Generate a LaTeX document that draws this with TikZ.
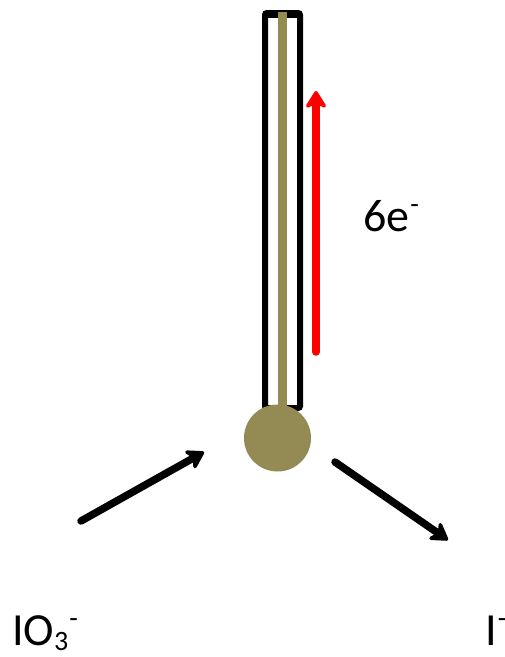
\documentclass[tikz,border=0pt]{standalone}
\usepackage{fontspec}
\setmainfont{Carlito}
\usetikzlibrary{arrows.meta}
\definecolor{olivebulb}{HTML}{948A54}
\definecolor{redarrow}{HTML}{FF0000}
\newcommand{\upmark}[1]{\hspace{1pt}\raisebox{18pt}{\fontsize{28}{30}\selectfont #1}}
\newcommand{\downmark}[1]{\raisebox{-5pt}{\fontsize{28}{30}\selectfont #1}}
\tikzset{
  tube/.style={draw=black,line width=6pt,rounded corners=2pt,fill=none},
  tubecap/.style={draw=black,line width=7pt},
  stem/.style={draw=olivebulb,line width=9pt},
  bulb/.style={circle,fill=olivebulb,draw=none,inner sep=0pt,minimum size=67pt},
  flow/.style={line width=7.5pt,line cap=round,-{Stealth[length=21pt,width=26pt,inset=7pt,round]}},
  lab/.style={inner sep=0pt,anchor=base west,font=\fontsize{46}{50}\selectfont},
}
\begin{document}
\begin{tikzpicture}[x=1pt,y=-1pt]
\useasboundingbox (0,0) rectangle (505,657);
\draw[tube] (265,13) rectangle (300,408);
\coordinate (capleft) at (264.5,14);
\coordinate (capright) at (300.5,14);
\draw[tubecap] (capleft) -- (capright);
\coordinate (stemtop) at (282,12);
\coordinate (stembot) at (282,415);
\draw[stem] (stemtop) -- (stembot);
\node[bulb] (ball) at (277.5,438) {};
\coordinate (redstart) at (316,352);
\coordinate (redend) at (316,91);
\draw[flow,draw=redarrow,fill=redarrow] (redstart) -- (redend);
\coordinate (instart) at (81,521);
\coordinate (inend) at (204,452);
\draw[flow,fill=black] (instart) -- (inend);
\coordinate (outstart) at (335,462);
\coordinate (outend) at (448,540);
\draw[flow,fill=black] (outstart) -- (outend);
\node[lab] (six) at (363,231) {6e\upmark{-}};
\node[lab] (iodate) at (12,645) {IO\downmark{3}\upmark{-}};
\node[lab] (iodide) at (485,645) {I\upmark{-}};
\end{tikzpicture}
\end{document}
